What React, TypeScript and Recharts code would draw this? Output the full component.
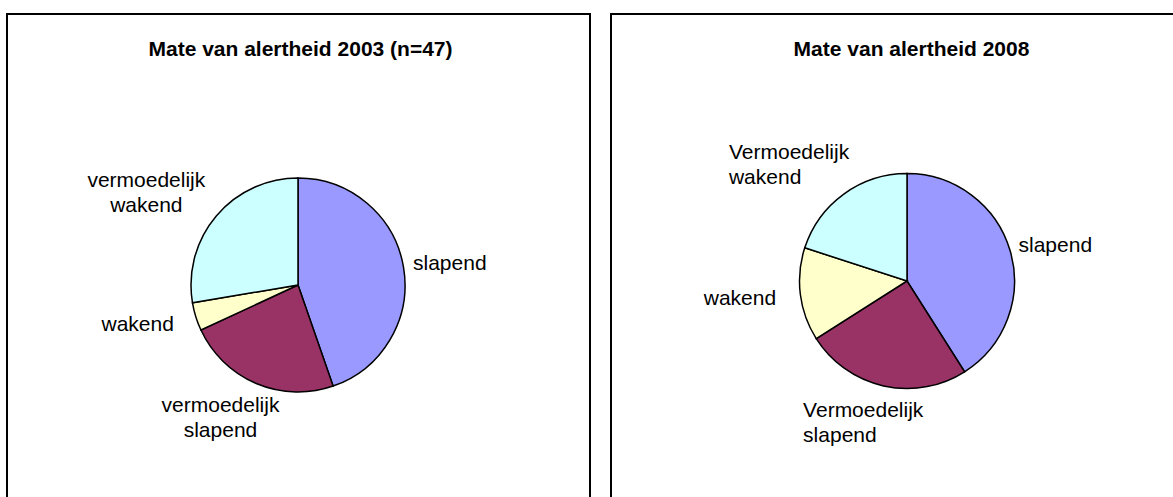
import React from "react";
import { PieChart, Pie, Cell } from "recharts";

const categories2003 = ["slapend", "vermoedelijk slapend", "wakend", "vermoedelijk wakend"];
const values2003 = [21, 11, 2, 13];
const categories2008 = ["slapend", "Vermoedelijk slapend", "wakend", "Vermoedelijk wakend"];
const values2008 = [41, 25, 14, 20];
const sliceColors = ["#9999FF", "#993366", "#FFFFCC", "#CCFFFF"];
const titles = ["Mate van alertheid 2003 (n=47)", "Mate van alertheid 2008"];

const FONT = "'Liberation Sans', Arial, Helvetica, sans-serif";
const LABEL_SIZE = 21;
const LINE_H = 25;
const RAD = Math.PI / 180;

const data2003 = categories2003.map((name, i) => ({ name, value: values2003[i] }));
const data2008 = categories2008.map((name, i) => ({ name, value: values2008[i] }));

let ctx: CanvasRenderingContext2D | null = null;
function measure(text: string): number {
  if (!ctx && typeof document !== "undefined") {
    ctx = document.createElement("canvas").getContext("2d");
  }
  if (ctx) {
    ctx.font = `${LABEL_SIZE}px ${FONT}`;
    return ctx.measureText(text).width;
  }
  return text.length * LABEL_SIZE * 0.52;
}

function makeLabel(align: "middle" | "start") {
  return (props: any) => {
    const { cx, cy, midAngle, outerRadius, name } = props;
    const lines: string[] = String(name).split(" ");
    const w = Math.max(...lines.map(measure));
    const h = lines.length * LINE_H;
    const ux = Math.cos(-midAngle * RAD);
    const uy = Math.sin(-midAngle * RAD);
    const R = outerRadius + 12;
    const px = cx + R * ux;
    const py = cy + R * uy;
    const kx = ux < 0 ? 1.35 : 0.95;
    const bx = px + ux * (w / 2) * kx;
    const by = py + uy * (h / 2);
    const top = by - h / 2;
    const x = align === "middle" ? bx : bx - w / 2;
    return (
      <text
        x={x}
        y={top}
        textAnchor={align}
        fontFamily={FONT}
        fontSize={LABEL_SIZE}
        fill="#000"
      >
        {lines.map((ln, i) => (
          <tspan key={i} x={x} y={top + LINE_H * (i + 0.5) + LABEL_SIZE * 0.35}>
            {ln}
          </tspan>
        ))}
      </text>
    );
  };
}

export default function App() {
  return (
    <div
      style={{
        position: "absolute",
        left: 0,
        top: 0,
        width: 1173,
        height: 497,
        overflow: "hidden",
        background: "#fff",
      }}
    >
      <svg
        width={1173}
        height={497}
        style={{ position: "absolute", left: 0, top: 0 }}
      >
        <rect x={7} y={14} width={583} height={520} fill="#fff" stroke="#000" strokeWidth={2} />
        <rect x={611} y={14} width={583} height={520} fill="#fff" stroke="#000" strokeWidth={2} />
        <text x={300.5} y={55.5} textAnchor="middle" fontFamily={FONT} fontWeight="bold" fontSize={21} fill="#000">
          {titles[0]}
        </text>
        <text x={911.5} y={55.5} textAnchor="middle" fontFamily={FONT} fontWeight="bold" fontSize={21} fill="#000">
          {titles[1]}
        </text>
      </svg>
      <div style={{ position: "absolute", left: 0, top: 0 }}>
        <PieChart width={1173} height={497} margin={{ top: 0, right: 0, bottom: 0, left: 0 }}>
          <Pie
            data={data2003}
            dataKey="value"
            nameKey="name"
            cx={298}
            cy={285}
            outerRadius={107}
            startAngle={90}
            endAngle={-270}
            stroke="#000"
            strokeWidth={1.5}
            labelLine={false}
            label={makeLabel("middle")}
            isAnimationActive={false}
          >
            {data2003.map((d, i) => (
              <Cell key={d.name} fill={sliceColors[i]} />
            ))}
          </Pie>
          <Pie
            data={data2008}
            dataKey="value"
            nameKey="name"
            cx={907}
            cy={281}
            outerRadius={107.5}
            startAngle={90}
            endAngle={-270}
            stroke="#000"
            strokeWidth={1.5}
            labelLine={false}
            label={makeLabel("start")}
            isAnimationActive={false}
          >
            {data2008.map((d, i) => (
              <Cell key={d.name} fill={sliceColors[i]} />
            ))}
          </Pie>
        </PieChart>
      </div>
    </div>
  );
}
